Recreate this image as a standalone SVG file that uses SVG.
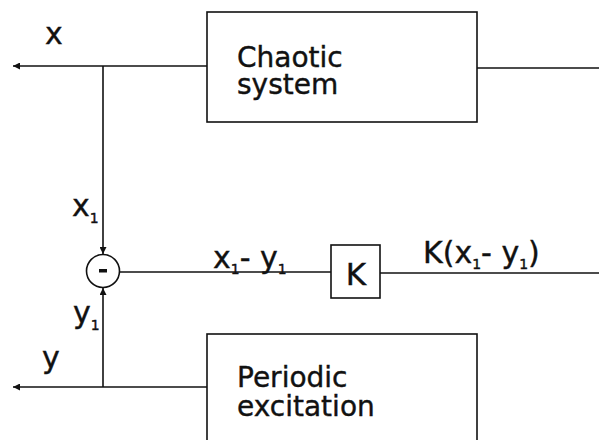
<svg xmlns="http://www.w3.org/2000/svg" width="599" height="440" viewBox="0 0 599 440">
<style>
  .ln { stroke:#111; stroke-width:1.6; fill:none; }
  .box { stroke:#111; stroke-width:1.6; fill:#fff; }
  text { font-family:"DejaVu Sans","Liberation Sans",sans-serif; fill:#111; stroke:#111; stroke-width:0.4; }
  .big { font-size:28px; }
  .lab { font-size:30px; }
  .kk { font-size:31px; }
  .sub { font-size:14px; }
</style>
<defs>
  <marker id="ah" viewBox="0 0 10 10" refX="10" refY="5" markerWidth="7" markerHeight="7" markerUnits="userSpaceOnUse" orient="auto">
    <path d="M0,0 L10,5 L0,10 Z" fill="#111"/>
  </marker>
</defs>
<rect width="599" height="440" fill="#fff"/>
<g id="connectors">
  <line class="ln" x1="207" y1="66" x2="13" y2="66" marker-end="url(#ah)"/>
  <line class="ln" x1="477" y1="68" x2="599" y2="68"/>
  <line class="ln" x1="103" y1="66" x2="103" y2="254" marker-end="url(#ah)"/>
  <line class="ln" x1="207" y1="387" x2="13" y2="387" marker-end="url(#ah)"/>
  <line class="ln" x1="103" y1="387" x2="103" y2="288" marker-end="url(#ah)"/>
  <line class="ln" x1="120" y1="272" x2="331" y2="272"/>
  <line class="ln" x1="380" y1="273" x2="599" y2="273"/>
</g>
<g id="chaotic">
  <rect class="box" x="207" y="12" width="270" height="110"/>
  <text class="big"><tspan x="237" y="67">Chaotic</tspan><tspan x="237" y="94">system</tspan></text>
</g>
<g id="periodic">
  <rect class="box" x="207" y="334" width="270" height="112"/>
  <text class="big"><tspan x="237" y="387">Periodic</tspan><tspan x="237" y="416">excitation</tspan></text>
</g>
<g id="sum">
  <circle class="box" cx="103" cy="271" r="16.5"/>
  <rect x="99" y="269" width="8" height="3.5" fill="#111"/>
</g>
<g id="gain">
  <rect class="box" x="331" y="245" width="49" height="53"/>
  <text class="kk" x="356" y="285" text-anchor="middle">K</text>
</g>
<g id="labels">
  <text class="lab" x="45" y="44">x</text>
  <text class="lab" x="42" y="368">y</text>
  <text class="lab" x="72" y="216">x<tspan class="sub" dy="7">1</tspan></text>
  <text class="lab" x="73" y="323">y<tspan class="sub" dy="7">1</tspan></text>
  <text class="lab" x="213" y="268">x<tspan class="sub" dy="6">1</tspan><tspan dy="-6">- y</tspan><tspan class="sub" dy="6">1</tspan></text>
  <text class="lab" x="423" y="263">K(x<tspan class="sub" dy="6">1</tspan><tspan dy="-6">- y</tspan><tspan class="sub" dy="6">1</tspan><tspan dy="-6">)</tspan></text>
</g>
</svg>
